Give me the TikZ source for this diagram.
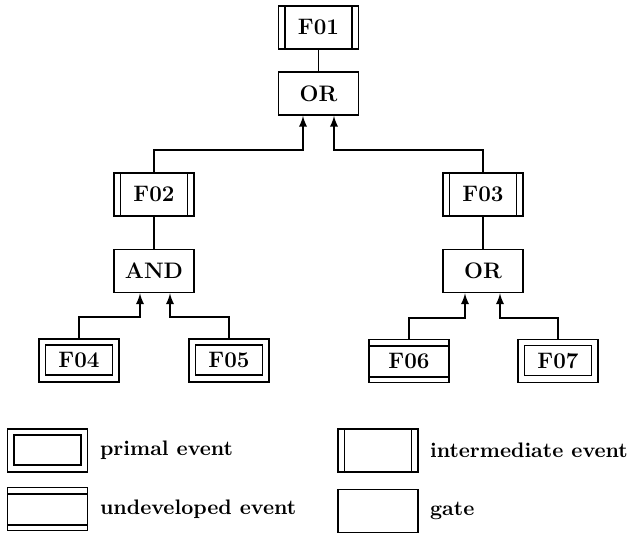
\documentclass[tikz,border=0pt]{standalone}
\usepackage{tikz}
\usetikzlibrary{arrows,calc}
\tikzset{>=latex}
\newcommand{\treefont}{\fontsize{11.2}{13}\selectfont\bfseries}
\newcommand{\keyfont}{\fontsize{10.5}{12.5}\selectfont\bfseries}
\tikzset{
  eventbox/.style={draw, line width=0.85pt, minimum width=40pt, minimum height=21.5pt,
    inner sep=0pt, font=\treefont},
  gatebox/.style={eventbox},
  interevent/.style={eventbox,
    path picture={
      \draw[line width=0.85pt] ([xshift=3.2pt]path picture bounding box.north west) -- ([xshift=3.2pt]path picture bounding box.south west);
      \draw[line width=0.85pt] ([xshift=-3.2pt]path picture bounding box.north east) -- ([xshift=-3.2pt]path picture bounding box.south east);
    }},
  primalevent/.style={eventbox,
    path picture={
      \draw[line width=0.85pt] ([shift={(3.3pt,-3pt)}]path picture bounding box.north west) rectangle ([shift={(-3.3pt,3.5pt)}]path picture bounding box.south east);
    }},
  undevevent/.style={eventbox,
    path picture={
      \draw[line width=0.85pt] ([yshift=-3.3pt]path picture bounding box.north west) -- ([yshift=-3.3pt]path picture bounding box.north east);
      \draw[line width=0.85pt] ([yshift=2.7pt]path picture bounding box.south west) -- ([yshift=2.7pt]path picture bounding box.south east);
    }},
  keytext/.style={anchor=west, font=\keyfont},
  link/.style={line width=0.85pt}
}

\begin{document}
\begin{tikzpicture}[x=0.5pt,y=-0.5pt]
  \useasboundingbox (0,0) rectangle (628,533);
  % top of the tree
  \node[interevent] at (318.5,27.5) (f01) {F01};
  \node[gatebox] at (318.5,93.5) (or1) {OR};
  \draw[link] (f01) -- (or1);
  % left branch
  \node[interevent] at (154,194.5) (f02) {F02};
  \node[gatebox] at (154,271) (and1) {AND};
  \draw[link] (f02) -- (and1);
  % right branch
  \node[interevent] at (483,194.5) (f03) {F03};
  \node[gatebox] at (483,271) (or2) {OR};
  \draw[link] (f03) -- (or2);
  % leaves
  \node[primalevent] at (79,360.5) (f04) {F04};
  \node[primalevent] at (229,360.5) (f05) {F05};
  \node[undevevent] at (409,361) (f06) {F06};
  \node[primalevent] at (558,361) (f07) {F07};
  % arrows into the gates
  \draw[link,->] (f02.north) -- (f02.north |- 0,150) -| ([xshift=-7.75pt]or1.south);
  \draw[link,->] (f03.north) -- (f03.north |- 0,150) -| ([xshift=7.75pt]or1.south);
  \draw[link,->] (f04.north) -- (f04.north |- 0,317) -| ([xshift=-7pt]and1.south);
  \draw[link,->] (f05.north) -- (f05.north |- 0,317) -| ([xshift=8pt]and1.south);
  \draw[link,->] (f06.north) -- (f06.north |- 0,318) -| ([xshift=-9pt]or2.south);
  \draw[link,->] (f07.north) -- (f07.north |- 0,318) -| ([xshift=8.5pt]or2.south);
  % legend
  \node[primalevent] at (47.5,450.5) (keyprimal) {};
  \node[keytext] at (93,450.5) (keyprimaltext) {primal event};
  \node[undevevent] at (47.5,509) (keyundev) {};
  \node[keytext] at (93,509) (keyundevtext) {undeveloped event};
  \node[interevent] at (378,450.5) (keyinter) {};
  \node[keytext] at (423,450.5) (keyintertext) {intermediate event};
  \node[gatebox] at (378,511) (keygate) {};
  \node[keytext] at (423,511) (keygatetext) {gate};
\end{tikzpicture}
\end{document}
